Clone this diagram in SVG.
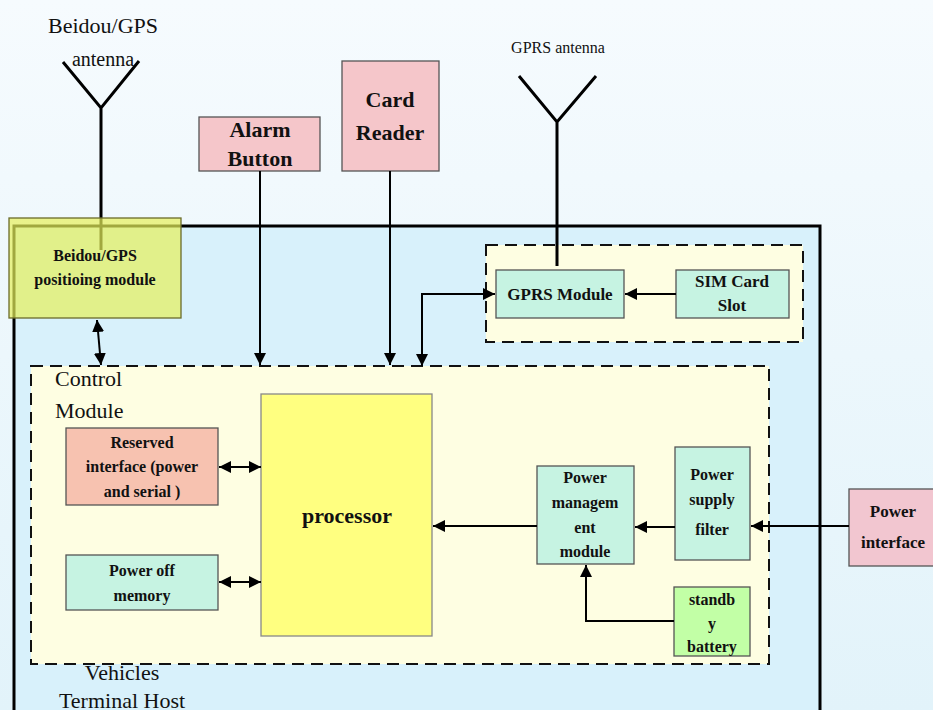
<svg xmlns="http://www.w3.org/2000/svg" width="933" height="710" viewBox="0 0 933 710">
<defs>
<linearGradient id="bg" x1="0" y1="0" x2="0" y2="1">
<stop offset="0" stop-color="#f6fbfe"/>
<stop offset="1" stop-color="#e2f3fa"/>
</linearGradient>
<marker id="ah" viewBox="0 0 12 12" refX="12" refY="6" markerWidth="12" markerHeight="12" markerUnits="userSpaceOnUse" orient="auto-start-reverse">
<path d="M0,0 L12,6 L0,12 Z" fill="#000"/>
</marker>
<style>
.box{stroke:#555;stroke-width:1.3}
.dash{fill:#fefee2;stroke:#111;stroke-width:2;stroke-dasharray:12 7}
.lb{font-family:"Liberation Serif","Times New Roman",serif;font-weight:bold;text-anchor:middle;fill:#111}
.lr{font-family:"Liberation Serif","Times New Roman",serif;fill:#111}
.ln{fill:none;stroke:#000;stroke-width:2}
.ant{fill:none;stroke:#000;stroke-width:3}
</style>
</defs>
<rect width="933" height="710" fill="url(#bg)"/>

<g id="host">
<rect x="14" y="226" width="806" height="500" fill="#d8f1fb" stroke="#000" stroke-width="3"/>
<text class="lr" x="122" y="680" font-size="22" text-anchor="middle">Vehicles</text>
<text class="lr" x="122" y="708" font-size="22" text-anchor="middle">Terminal Host</text>
</g>

<g id="gprs-group">
<rect class="dash" x="486" y="245" width="317" height="97"/>
</g>

<g id="control-module">
<rect class="dash" x="31" y="366" width="738" height="298"/>
<text class="lr" x="55" y="386" font-size="22">Control</text>
<text class="lr" x="55" y="418" font-size="22">Module</text>
</g>

<g id="beidou-antenna">
<path class="ant" d="M63,62 L101,108 L139,61 M101,108 L101,250"/>
<text class="lr" x="103" y="33" font-size="22" text-anchor="middle">Beidou/GPS</text>
<text class="lr" x="103" y="66" font-size="20" text-anchor="middle">antenna</text>
</g>

<g id="beidou-module">
<rect x="9" y="218" width="172" height="100" fill="#e6ef5a" fill-opacity="0.7" stroke="#6b6b2a" stroke-width="1.3"/>
<text class="lb" x="95" y="261" font-size="16">Beidou/GPS</text>
<text class="lb" x="95" y="285" font-size="16">positioing module</text>
</g>

<g id="alarm-button">
<rect class="box" x="199" y="117" width="121" height="54" fill="#f5c6ca"/>
<text class="lb" x="260" y="137" font-size="22">Alarm</text>
<text class="lb" x="260" y="166" font-size="22">Button</text>
</g>

<g id="card-reader">
<rect class="box" x="342" y="61" width="97" height="110" fill="#f5c6ca"/>
<text class="lb" x="390" y="107" font-size="22">Card</text>
<text class="lb" x="390" y="140" font-size="22">Reader</text>
</g>

<g id="gprs-antenna">
<path class="ant" d="M519,76 L557,122 L596,76 M557,122 L557,266"/>
<text class="lr" x="558" y="53" font-size="16" text-anchor="middle">GPRS antenna</text>
</g>

<g id="gprs-module">
<rect class="box" x="496" y="270" width="128" height="48" fill="#c6f3e2"/>
<text class="lb" x="560" y="300" font-size="17">GPRS Module</text>
</g>

<g id="sim-card-slot">
<rect class="box" x="676" y="270" width="113" height="48" fill="#c6f3e2"/>
<text class="lb" x="732" y="287" font-size="17">SIM Card</text>
<text class="lb" x="732" y="311" font-size="17">Slot</text>
</g>

<g id="processor">
<rect x="261" y="394" width="171" height="242" fill="#ffff80" stroke="#888" stroke-width="1.3"/>
<text class="lb" x="347" y="523" font-size="22">processor</text>
</g>

<g id="reserved-interface">
<rect class="box" x="66" y="428" width="152" height="77" fill="#f7c2b0"/>
<text class="lb" x="142" y="448" font-size="16">Reserved</text>
<text class="lb" x="142" y="472" font-size="16">interface (power</text>
<text class="lb" x="142" y="497" font-size="16">and serial )</text>
</g>

<g id="power-off-memory">
<rect class="box" x="66" y="555" width="152" height="55" fill="#c6f3e2"/>
<text class="lb" x="142" y="576" font-size="16">Power off</text>
<text class="lb" x="142" y="601" font-size="16">memory</text>
</g>

<g id="power-management">
<rect class="box" x="537" y="466" width="97" height="98" fill="#c6f3e2"/>
<text class="lb" x="585" y="483" font-size="16">Power</text>
<text class="lb" x="585" y="508" font-size="16">managem</text>
<text class="lb" x="585" y="533" font-size="16">ent</text>
<text class="lb" x="585" y="557" font-size="16">module</text>
</g>

<g id="power-supply-filter">
<rect class="box" x="675" y="447" width="75" height="113" fill="#c6f3e2"/>
<text class="lb" x="712" y="480" font-size="16">Power</text>
<text class="lb" x="712" y="505" font-size="16">supply</text>
<text class="lb" x="712" y="535" font-size="16">filter</text>
</g>

<g id="standby-battery">
<rect class="box" x="674" y="587" width="76" height="69" fill="#c2ffa6"/>
<text class="lb" x="712" y="605" font-size="16">standb</text>
<text class="lb" x="712" y="629" font-size="16">y</text>
<text class="lb" x="712" y="652" font-size="16">battery</text>
</g>

<g id="power-interface">
<rect class="box" x="849" y="489" width="90" height="77" fill="#f2c6d0"/>
<text class="lb" x="893" y="517" font-size="17">Power</text>
<text class="lb" x="893" y="548" font-size="17">interface</text>
</g>

<g id="connectors">
<path class="ln" d="M97,320 L101,365" marker-start="url(#ah)" marker-end="url(#ah)"/>
<path class="ln" d="M260,171 L260,365" marker-end="url(#ah)"/>
<path class="ln" d="M390,171 L390,365" marker-end="url(#ah)"/>
<path class="ln" d="M422,366 L422,294 L495,294" marker-start="url(#ah)" marker-end="url(#ah)"/>
<path class="ln" d="M676,294 L625,294" marker-end="url(#ah)"/>
<path class="ln" d="M219,467 L261,467" marker-start="url(#ah)" marker-end="url(#ah)"/>
<path class="ln" d="M219,582 L261,582" marker-start="url(#ah)" marker-end="url(#ah)"/>
<path class="ln" d="M537,526 L433,526" marker-end="url(#ah)"/>
<path class="ln" d="M675,527 L635,527" marker-end="url(#ah)"/>
<path class="ln" d="M674,621 L586,621 L586,565" marker-end="url(#ah)"/>
<path class="ln" d="M849,526 L751,526" marker-end="url(#ah)"/>
</g>
</svg>
